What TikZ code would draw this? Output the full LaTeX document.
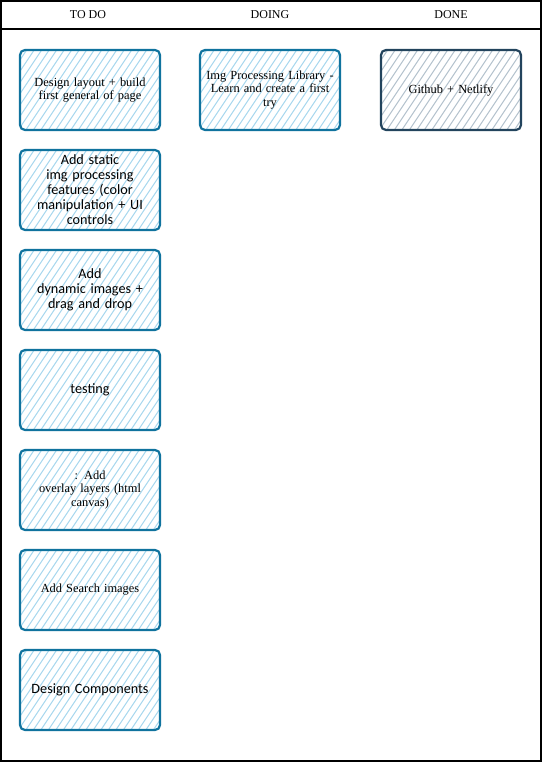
\documentclass[tikz,border=0pt]{standalone}
\usepackage{fontspec}
\setmainfont{Liberation Serif}
\newfontfamily\carl{Carlito}
\definecolor{cardblue}{HTML}{10739E}
\definecolor{hatchblue}{HTML}{A9D8EE}
\definecolor{donestroke}{HTML}{23445D}
\definecolor{donehatch}{HTML}{B5C3CE}
\begin{document}
\begin{tikzpicture}[x=1pt,y=-1pt,
  hatched/.style={path picture={
      \foreach \k in {-24,...,24}
        \draw[#1, line width=1pt]
          ([xshift=\k*7.5pt-40pt, yshift=-60pt]path picture bounding box.center) -- ++(80pt,120pt);}},
  card/.style={draw=cardblue, line width=2.2pt, rounded corners=5pt,
    minimum width=140pt, minimum height=80pt, text width=132pt, align=center,
    hatched=hatchblue, inner sep=0pt},
  donecard/.style={card, draw=donestroke, hatched=donehatch},
  serifs/.style={font=\fontsize{12.4}{13.5}\selectfont},
  sans/.style={font=\carl\fontsize{14.2}{15}\selectfont},
  head/.style={font=\fontsize{12}{14}\selectfont}]
\useasboundingbox (0,0) rectangle (542,762);
% frame
\draw[line width=1.5pt] (1,1) rectangle (541,761);
\coordinate (hl) at (1,29);
\coordinate (hr) at (541,29);
\draw[line width=1.5pt] (hl) -- (hr);
\node[head] (todo) at (88,15) {TO DO};
\node[head] (doing) at (270,15) {DOING};
\node[head] (done) at (451,15) {DONE};
% TO DO column
\node[card, serifs] (c1) at (90,90) {Design layout + build\\first general of page};
\node[card, sans] (c2) at (90,190) {Add static\\img processing\\features (color\\manipulation + UI\\controls};
\node[card, sans] (c3) at (90,290) {Add\\dynamic images +\\drag and drop};
\node[card, sans] (c4) at (90,390) {testing};
\node[card, serifs] (c5) at (90,490) {: Add\\overlay layers (html\\canvas)};
\node[card, serifs] (c6) at (90,590) {Add Search images};
\node[card, sans] (c7) at (90,690) {Design Components};
% DOING
\node[card, serifs] (d1) at (270,90) {Img Processing Library -\\Learn and create a first\\try};
% DONE
\node[donecard, serifs] (e1) at (451,90) {Github + Netlify};
\end{tikzpicture}
\end{document}
